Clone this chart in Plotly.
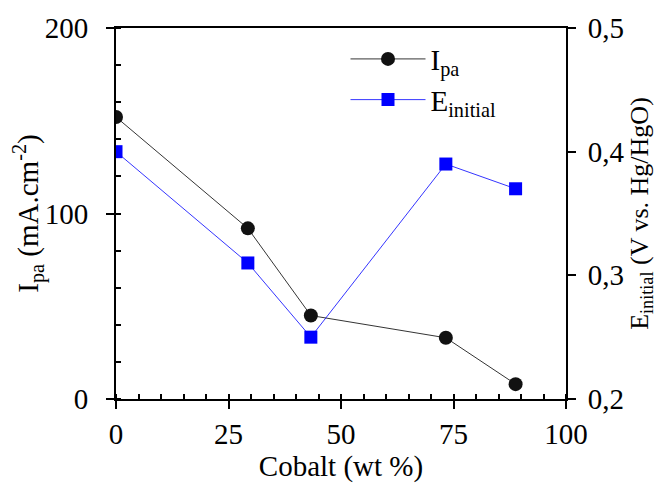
import plotly.graph_objects as go

cobalt = [0, 29.3, 43.3, 73.3, 88.8]
ipa = [152, 92, 45, 33, 8]
e_initial = [0.40, 0.31, 0.25, 0.39, 0.37]

FONT = "Times New Roman"
FS = 29

fig = go.Figure()
fig.add_trace(go.Scatter(
    x=cobalt, y=ipa, name="I<sub>pa</sub>", mode="lines+markers",
    line=dict(color="black", width=0.8),
    marker=dict(symbol="circle", size=14, color="#111111"),
    legendgroup="a", yaxis="y"))
fig.add_trace(go.Scatter(
    x=cobalt, y=e_initial, name="E<sub>initial</sub>", mode="lines+markers",
    line=dict(color="#0000FF", width=0.8),
    marker=dict(symbol="square", size=13, color="#0000FF"),
    legendgroup="b", yaxis="y2"))

fig.update_layout(
    width=662, height=475,
    margin=dict(l=108, r=104, t=20, b=84, autoexpand=False),
    paper_bgcolor="white", plot_bgcolor="white",
    font=dict(family=FONT, size=FS, color="black"),
    separators=", ",
    showlegend=True,
    legend=dict(x=0.51, y=0.985, xanchor="left", yanchor="top",
                bgcolor="rgba(0,0,0,0)", tracegroupgap=0, itemwidth=75,
                font=dict(family=FONT, size=FS)),
    xaxis=dict(range=[0, 100], tickvals=[0, 25, 50, 75, 100], automargin=False,
               showline=True, linecolor="black", linewidth=2, mirror=True,
               ticks="outside", ticklen=8, tickwidth=2, tickcolor="black",
               tickfont=dict(family=FONT, size=FS),
               minor=dict(dtick=5, ticks="inside", ticklen=5, tickwidth=1.5, tickcolor="black"),
               showgrid=False, zeroline=False,
               title=dict(text="Cobalt (wt %)", standoff=4, font=dict(family=FONT, size=FS))),
    yaxis=dict(range=[0, 200], tickvals=[0, 100, 200], automargin=False,
               showline=True, linecolor="black", linewidth=2,
               ticks="outside", ticklen=8, tickwidth=2, tickcolor="black",
               ticklabelstandoff=12,
               tickfont=dict(family=FONT, size=FS),
               minor=dict(dtick=20, ticks="inside", ticklen=5, tickwidth=1.5, tickcolor="black"),
               showgrid=False, zeroline=False,
               title=dict(text="I<sub>pa</sub> (mA.cm<sup>-2</sup>)", standoff=10,
                          font=dict(family=FONT, size=FS))),
    yaxis2=dict(range=[0.2, 0.5], tickvals=[0.2, 0.3, 0.4, 0.5], tickformat=".1f",
                overlaying="y", side="right", automargin=False,
                showline=True, linecolor="black", linewidth=2,
                ticks="outside", ticklen=8, tickwidth=2, tickcolor="black",
                ticklabelstandoff=6,
                tickfont=dict(family=FONT, size=FS),
                showgrid=False, zeroline=False,
                title=dict(text="E<sub>initial</sub> (V vs. Hg/HgO)", standoff=6,
                           font=dict(family=FONT, size=26))),
)

fig.write_html("out.html")
